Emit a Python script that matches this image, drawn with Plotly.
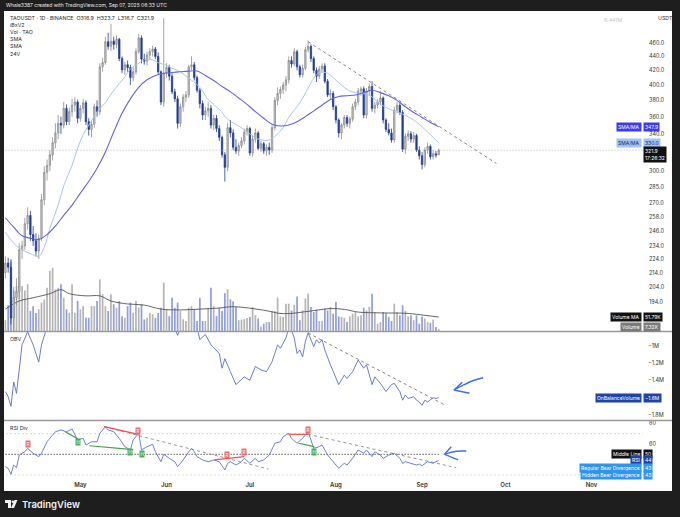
import math
import pandas as pd
import plotly.graph_objects as go

W, H = 680, 517
FONT = "Inter"

# daily candles 2025-04-04 .. 2025-09-07
dates = pd.date_range("2025-04-04", "2025-09-07", freq="D")
opens = [214, 221, 218, 184, 197, 201, 231, 234, 252, 259,
         243, 238, 230, 240, 273, 299, 306, 317, 330, 341,
         352, 350, 370, 354, 366, 374, 378, 358, 370, 377,
         354, 345, 351, 372, 366, 425, 431, 462, 455, 463,
         458, 466, 437, 421, 428, 424, 410, 418, 447, 468,
         436, 433, 442, 447, 451, 440, 418, 378, 416, 424,
         412, 391, 382, 352, 372, 384, 387, 425, 428, 410,
         393, 376, 362, 367, 370, 350, 358, 346, 336, 317,
         304, 347, 341, 325, 321, 327, 332, 342, 346, 319,
         334, 341, 324, 329, 321, 325, 322, 347, 380, 389,
         394, 400, 407, 434, 429, 447, 425, 414, 423, 450,
         455, 437, 420, 412, 422, 426, 405, 387, 389, 372,
         356, 341, 350, 359, 352, 357, 372, 378, 392, 395,
         362, 392, 398, 370, 374, 378, 383, 356, 345, 341,
         333, 368, 374, 365, 323, 337, 340, 334, 338, 322,
         316, 307, 322, 326, 315, 318, 316.9]
highs = [226, 225, 222, 204, 210, 236, 238, 257, 266, 263,
         250, 244, 243, 278, 305, 312, 322, 336, 352, 362,
         360, 378, 375, 371, 382, 384, 381, 374, 382, 380,
         358, 355, 376, 380, 430, 438, 470, 476, 490, 470,
         472, 468, 440, 432, 434, 428, 424, 452, 474, 472,
         444, 447, 452, 456, 454, 446, 420, 500, 430, 428,
         416, 395, 386, 376, 388, 392, 428, 440, 432, 413,
         396, 380, 372, 378, 374, 362, 362, 350, 338, 320,
         352, 356, 345, 334, 330, 336, 346, 350, 348, 338,
         346, 343, 332, 331, 328, 330, 350, 384, 397, 398,
         404, 412, 440, 440, 452, 450, 428, 428, 454, 464,
         458, 440, 424, 426, 430, 430, 408, 394, 392, 374,
         358, 352, 362, 362, 360, 376, 382, 396, 398, 398,
         396, 402, 405, 378, 382, 392, 385, 358, 352, 346,
         372, 378, 377, 368, 340, 344, 343, 342, 340, 326,
         320, 325, 330, 328, 322, 321, 323.7]
lows = [210, 214, 180, 175, 192, 196, 224, 231, 247, 238,
        234, 226, 224, 238, 268, 291, 300, 311, 324, 334,
        340, 346, 350, 350, 360, 366, 352, 354, 364, 350,
        338, 336, 347, 360, 362, 418, 428, 450, 448, 450,
        452, 433, 416, 414, 418, 400, 405, 414, 444, 430,
        428, 427, 436, 440, 436, 414, 374, 372, 410, 406,
        388, 378, 346, 348, 366, 378, 383, 420, 406, 390,
        370, 356, 356, 360, 346, 344, 342, 332, 314, 290,
        300, 336, 322, 318, 316, 324, 328, 338, 316, 315,
        330, 322, 320, 318, 316, 317, 319, 344, 374, 382,
        388, 392, 402, 424, 426, 420, 410, 410, 420, 446,
        432, 416, 404, 408, 418, 402, 384, 382, 368, 352,
        336, 334, 346, 348, 346, 354, 368, 374, 386, 358,
        358, 386, 366, 364, 370, 374, 352, 342, 338, 330,
        330, 364, 362, 320, 318, 332, 330, 330, 320, 312,
        302, 304, 318, 312, 312, 314, 316.7]
closes = [221, 218, 184, 197, 201, 231, 234, 252, 259, 243,
          238, 230, 240, 273, 299, 306, 317, 330, 341, 352,
          350, 370, 354, 366, 374, 378, 358, 370, 377, 354,
          345, 351, 372, 366, 425, 431, 462, 455, 463, 458,
          466, 437, 421, 428, 424, 410, 418, 447, 468, 436,
          433, 442, 447, 451, 440, 418, 378, 416, 424, 412,
          391, 382, 352, 372, 384, 387, 425, 428, 410, 393,
          376, 362, 367, 370, 350, 358, 346, 336, 317, 304,
          347, 341, 325, 321, 327, 332, 342, 346, 319, 334,
          341, 324, 329, 321, 325, 322, 347, 380, 389, 394,
          400, 407, 434, 429, 447, 425, 414, 423, 450, 455,
          437, 420, 412, 422, 426, 405, 387, 389, 372, 356,
          341, 350, 359, 352, 357, 372, 378, 392, 395, 362,
          392, 398, 370, 374, 378, 383, 356, 345, 341, 333,
          368, 374, 365, 323, 337, 340, 334, 338, 322, 316,
          307, 322, 326, 315, 318, 316.9, 321.9]
volumes_k = [40, 95, 265, 150, 166, 200, 166, 150, 173, 74,
             92, 67, 80, 105, 117, 160, 222, 234, 154, 160,
             173, 123, 80, 67, 173, 67, 111, 80, 92, 49,
             49, 92, 92, 111, 191, 136, 92, 74, 136, 99,
             86, 111, 55, 49, 92, 105, 67, 111, 86, 99,
             43, 49, 67, 62, 49, 67, 86, 179, 80, 55,
             123, 86, 105, 74, 43, 37, 86, 92, 80, 37,
             123, 37, 37, 86, 160, 92, 55, 86, 74, 140,
             154, 117, 110, 89, 40, 42, 44, 48, 52, 89,
             58, 46, 17, 27, 33, 33, 74, 74, 123, 54,
             52, 101, 101, 76, 97, 128, 40, 76, 120, 138,
             89, 70, 79, 37, 37, 83, 76, 89, 64, 107,
             54, 52, 49, 33, 54, 64, 70, 54, 58, 86,
             76, 89, 138, 70, 27, 33, 70, 66, 52, 37,
             101, 70, 58, 95, 74, 54, 58, 40, 58, 27,
             54, 46, 33, 30, 42, 15, 7.32]

# moving averages
sma_fast_dates = ["2025-04-04", "2025-04-07", "2025-04-10", "2025-04-13", "2025-04-16", "2025-04-18",
                  "2025-04-20", "2025-04-23", "2025-04-25", "2025-04-28", "2025-04-30", "2025-05-02",
                  "2025-05-05", "2025-05-07", "2025-05-10", "2025-05-12", "2025-05-15", "2025-05-17",
                  "2025-05-19", "2025-05-22", "2025-05-24", "2025-05-27", "2025-05-29", "2025-06-01",
                  "2025-06-03", "2025-06-06", "2025-06-08", "2025-06-13", "2025-06-16", "2025-06-20",
                  "2025-06-23", "2025-06-27", "2025-07-01", "2025-07-04", "2025-07-08", "2025-07-10",
                  "2025-07-13", "2025-07-15", "2025-07-19", "2025-07-22", "2025-07-24", "2025-07-26",
                  "2025-07-29", "2025-08-02", "2025-08-06", "2025-08-10", "2025-08-13", "2025-08-17",
                  "2025-08-21", "2025-08-25", "2025-08-29", "2025-09-02", "2025-09-05", "2025-09-07"]
sma_fast = [245, 236, 231, 228, 226, 233, 248, 268, 286, 306, 324, 339,
            355, 366, 377, 388, 402, 411, 422, 430, 435, 435, 431, 427,
            423, 418, 412, 397, 381, 369, 357, 349, 340, 334, 333, 337,
            347, 359, 377, 396, 409, 417, 416, 403, 392, 389, 387, 375,
            368, 363, 356, 345, 336, 330.0]
sma_slow_dates = ["2025-04-04", "2025-04-07", "2025-04-10", "2025-04-13", "2025-04-16", "2025-04-19",
                  "2025-04-22", "2025-04-25", "2025-04-28", "2025-05-01", "2025-05-04", "2025-05-07",
                  "2025-05-10", "2025-05-13", "2025-05-16", "2025-05-19", "2025-05-22", "2025-05-25",
                  "2025-05-28", "2025-05-31", "2025-06-03", "2025-06-06", "2025-06-09", "2025-06-12",
                  "2025-06-15", "2025-06-18", "2025-06-21", "2025-06-24", "2025-06-27", "2025-06-30",
                  "2025-07-03", "2025-07-06", "2025-07-09", "2025-07-12", "2025-07-15", "2025-07-18",
                  "2025-07-21", "2025-07-24", "2025-07-27", "2025-07-30", "2025-08-02", "2025-08-05",
                  "2025-08-08", "2025-08-11", "2025-08-14", "2025-08-17", "2025-08-20", "2025-08-23",
                  "2025-08-26", "2025-08-29", "2025-09-01", "2025-09-04", "2025-09-07"]
sma_slow = [257, 249, 242, 240, 239, 243, 250, 259, 268, 279, 290, 303,
            320, 342, 364, 382, 397, 407, 413, 416, 417, 418, 419, 419,
            413, 406, 398, 391, 383, 375, 366, 358, 351, 349, 350, 354,
            360, 367, 374, 381, 385, 386, 387, 390, 393, 390, 386, 380,
            372, 365, 359, 353, 347.9]
vol_ma_dates = ["2025-04-04", "2025-04-09", "2025-04-14", "2025-04-20", "2025-04-24", "2025-04-27",
                "2025-05-03", "2025-05-08", "2025-05-12", "2025-05-18", "2025-05-24", "2025-05-30",
                "2025-06-06", "2025-06-13", "2025-06-20", "2025-06-25", "2025-07-06", "2025-07-13",
                "2025-07-23", "2025-07-30", "2025-08-04", "2025-08-09", "2025-08-17", "2025-08-27",
                "2025-09-02", "2025-09-07"]
vol_ma_k = [81, 111, 123, 138, 153, 138, 130, 130, 111, 100, 96, 81,
            78, 81, 85, 90, 77, 64, 74, 83, 80, 70, 67, 65, 58, 51.79]

# on-balance volume (millions)
obv_dates = ["2025-04-04", "2025-04-05", "2025-04-06", "2025-04-07", "2025-04-08", "2025-04-09",
             "2025-04-10", "2025-04-12", "2025-04-14", "2025-04-16", "2025-04-17", "2025-04-19",
             "2025-04-22", "2025-04-26", "2025-05-01", "2025-05-08", "2025-05-16", "2025-05-23",
             "2025-05-30", "2025-06-02", "2025-06-04", "2025-06-05", "2025-06-06", "2025-06-09",
             "2025-06-12", "2025-06-13", "2025-06-15", "2025-06-17", "2025-06-20", "2025-06-21",
             "2025-06-22", "2025-06-24", "2025-06-26", "2025-06-29", "2025-07-01", "2025-07-03",
             "2025-07-05", "2025-07-07", "2025-07-09", "2025-07-11", "2025-07-12", "2025-07-14",
             "2025-07-15", "2025-07-16", "2025-07-17", "2025-07-18", "2025-07-19", "2025-07-20",
             "2025-07-21", "2025-07-22", "2025-07-24", "2025-07-25", "2025-07-26", "2025-07-27",
             "2025-07-28", "2025-07-30", "2025-08-02", "2025-08-04", "2025-08-05", "2025-08-07",
             "2025-08-09", "2025-08-11", "2025-08-12", "2025-08-14", "2025-08-15", "2025-08-17",
             "2025-08-19", "2025-08-21", "2025-08-22", "2025-08-24", "2025-08-25", "2025-08-26",
             "2025-08-27", "2025-08-29", "2025-08-30", "2025-08-31", "2025-09-01", "2025-09-02",
             "2025-09-03", "2025-09-05", "2025-09-06", "2025-09-07"]
obv_m = [-1.53, -1.59, -1.70, -1.42, -1.55, -1.26,
         -0.99, -0.84, -0.99, -1.19, -0.99, -0.78,
         -0.55, -0.40, -0.35, -0.20, -0.25, -0.30,
         -0.55, -0.70, -0.80, -0.88, -0.79, -0.70,
         -0.79, -0.93, -0.87, -0.99, -1.09, -1.26,
         -1.15, -1.30, -1.45, -1.36, -1.40, -1.24,
         -1.28, -1.30, -1.185, -0.99, -1.03, -0.91,
         -0.80, -0.82, -0.91, -1.09, -1.05, -1.13,
         -0.95, -0.85, -1.01, -0.93, -0.97, -0.93,
         -1.05, -1.22, -1.45, -1.34, -1.38, -1.30,
         -1.165, -1.26, -1.22, -1.45, -1.36, -1.435,
         -1.53, -1.45, -1.435, -1.53, -1.63, -1.57,
         -1.61, -1.59, -1.63, -1.65, -1.69, -1.63,
         -1.65, -1.60, -1.61, -1.60]

# RSI
rsi_dates = ["2025-04-04", "2025-04-05", "2025-04-06", "2025-04-07", "2025-04-08", "2025-04-09",
             "2025-04-11", "2025-04-12", "2025-04-14", "2025-04-16", "2025-04-17", "2025-04-19",
             "2025-04-21", "2025-04-22", "2025-04-24", "2025-04-26", "2025-04-28", "2025-04-30",
             "2025-05-02", "2025-05-03", "2025-05-05", "2025-05-07", "2025-05-08", "2025-05-10",
             "2025-05-11", "2025-05-13", "2025-05-15", "2025-05-17", "2025-05-18", "2025-05-19",
             "2025-05-20", "2025-05-22", "2025-05-23", "2025-05-25", "2025-05-27", "2025-05-28",
             "2025-05-30", "2025-05-31", "2025-06-02", "2025-06-04", "2025-06-05", "2025-06-07",
             "2025-06-09", "2025-06-10", "2025-06-11", "2025-06-12", "2025-06-14", "2025-06-16",
             "2025-06-18", "2025-06-20", "2025-06-22", "2025-06-23", "2025-06-24", "2025-06-26",
             "2025-06-28", "2025-06-29", "2025-07-01", "2025-07-03", "2025-07-04", "2025-07-06",
             "2025-07-08", "2025-07-10", "2025-07-12", "2025-07-13", "2025-07-15", "2025-07-16",
             "2025-07-18", "2025-07-20", "2025-07-22", "2025-07-23", "2025-07-24", "2025-07-26",
             "2025-07-27", "2025-07-29", "2025-07-31", "2025-08-02", "2025-08-04", "2025-08-05",
             "2025-08-07", "2025-08-09", "2025-08-11", "2025-08-12", "2025-08-14", "2025-08-15",
             "2025-08-17", "2025-08-18", "2025-08-20", "2025-08-22", "2025-08-24", "2025-08-25",
             "2025-08-26", "2025-08-28", "2025-08-30", "2025-08-31", "2025-09-01", "2025-09-03",
             "2025-09-05", "2025-09-06", "2025-09-07"]
rsi_vals = [38, 36.4, 30.6, 39.6, 37, 49.3,
            52.5, 55.8, 51, 47.7, 51, 62.2,
            68.7, 71.9, 73.6, 71.9, 74.6, 63.9,
            65.5, 59, 62.2, 62.2, 70.4, 76.8,
            73.6, 71.9, 65.5, 57.4, 55.8, 54.2,
            63.9, 70.4, 54.2, 57.4, 59.7, 52.5,
            42.8, 50, 46.1, 42.8, 38, 44.5,
            52.5, 55.8, 52.5, 47.7, 44.5, 42.8,
            44.5, 42.8, 34.8, 41.3, 42.8, 39.6,
            42.8, 46.1, 41.3, 46.1, 42.8, 44.5,
            49.3, 60.7, 62.2, 67.1, 70.4, 65.5,
            60.7, 65.5, 71.9, 63.9, 55.8, 57.4,
            59, 49.3, 42.8, 36.4, 41.3, 39.6,
            46.1, 54.2, 51, 54.2, 47.7, 52.5,
            49.3, 46.1, 49.3, 51, 46.1, 41.3,
            42.8, 41.3, 39.6, 40.5, 38.9, 42.8,
            41.3, 42.8, 44]

# drawings on the chart
price_trend_dates = ["2025-07-22", "2025-09-27 18:00"]
price_trend_vals = [462, 308]
obv_trend_dates = ["2025-07-22", "2025-09-09 17:00"]
obv_trend_vals = [-0.853, -1.694]
rsi_trend1_dates = ["2025-05-09 14:00", "2025-07-07 16:00"]
rsi_trend1_vals = [76.8, 35.7]
rsi_trend2_dates = ["2025-07-22", "2025-09-13 07:00"]
rsi_trend2_vals = [69.4, 37.0]

bear_lines = [(["2025-05-09 14:00", "2025-05-21 22:00"], [76.8, 69.4]),
              (["2025-06-18 05:00", "2025-06-29"], [44.5, 47.7]),
              (["2025-07-14 22:00", "2025-07-22"], [69.4, 69.4])]
bull_lines = [(["2025-04-25 14:00", "2025-04-30 07:00"], [71.9, 64.6]),
              (["2025-05-04 05:00", "2025-05-20"], [58.3, 54.5]),
              (["2025-07-18 12:00", "2025-07-24 05:00"], [60.7, 57.4])]
bear_tag_dates = ["2025-04-12 07:00", "2025-05-21 22:00", "2025-06-22 22:00", "2025-06-29", "2025-07-22"]
bear_tag_vals = [60, 72.8, 49.3, 52.5, 73.6]
bull_tag_dates = ["2025-04-30 07:00", "2025-05-19", "2025-05-23", "2025-07-24 05:00"]
bull_tag_vals = [61.9, 52, 50, 52.5]

obv_arrow_dates = ["2025-09-12 12:00", "2025-09-15 22:00", "2025-09-19 12:00", "2025-09-23"]
obv_arrow_vals = [-1.512, -1.454, -1.402, -1.37]
obv_head_dates = ["2025-09-15 12:00", "2025-09-12 12:00", "2025-09-18 02:00"]
obv_head_vals = [-1.423, -1.512, -1.55]
rsi_arrow_dates = ["2025-09-09 02:00", "2025-09-13 07:00", "2025-09-16 22:00"]
rsi_arrow_vals = [50, 52.9, 53.2]
rsi_head_dates = ["2025-09-11 12:00", "2025-09-09 02:00", "2025-09-14"]
rsi_head_vals = [57.4, 50, 44.5]

month_ticks = ["2025-05-01", "2025-06-01", "2025-07-01", "2025-08-01", "2025-09-01", "2025-10-01", "2025-11-01"]
month_names = ["May", "Jun", "Jul", "Aug", "Sep", "Oct", "Nov"]
price_ticks = [460, 440, 420, 400, 380, 360, 340, 300, 285, 270, 258, 246, 234, 224, 214, 204, 194]

# pane layout in pixels
def px(x):
    return x / W

def py(y):
    return 1 - y / H

MAIN_D = [py(331), py(12)]
OBV_D = [py(420), py(332)]
RSI_D = [py(480), py(421)]
PRICE_R = [math.log10(176.2), math.log10(510.2)]
VOL_R = [0, 1180000]
OBV_R = [-1.859e6, -0.8416e6]
RSI_R = [25.05, 82.33]

def lin(v, r, d):
    return d[0] + (v - r[0]) / (r[1] - r[0]) * (d[1] - d[0])

fig = go.Figure()

vol_colors = ["rgba(150,150,150,0.7)" if c >= o else "rgba(105,125,210,0.75)" for o, c in zip(opens, closes)]
fig.add_trace(go.Bar(x=dates, y=[v * 1000 for v in volumes_k], marker_color=vol_colors,
                     marker_line_width=0, width=0.62 * 86400000, yaxis="y"))
fig.add_trace(go.Scatter(x=vol_ma_dates, y=[v * 1000 for v in vol_ma_k], mode="lines",
                         line=dict(color="#555555", width=0.9, shape="spline"), yaxis="y"))

fig.add_trace(go.Candlestick(x=dates, open=opens, high=highs, low=lows, close=closes, yaxis="y2",
                             increasing=dict(line=dict(color="#8c8c8c", width=0.8), fillcolor="#cccccc"),
                             decreasing=dict(line=dict(color="#1f3d8f", width=0.8), fillcolor="#1f3d8f")))
fig.add_trace(go.Scatter(x=sma_fast_dates, y=sma_fast, mode="lines", yaxis="y2",
                         line=dict(color="#a9c6ee", width=1, shape="spline")))
fig.add_trace(go.Scatter(x=sma_slow_dates, y=sma_slow, mode="lines", yaxis="y2",
                         line=dict(color="#6464dc", width=1.1, shape="spline")))
fig.add_trace(go.Scatter(x=["2025-04-03", "2025-11-20"], y=[closes[-1], closes[-1]], mode="lines", yaxis="y2",
                         line=dict(color="#aaaaaa", width=0.8, dash="1px,2px")))
fig.add_trace(go.Scatter(x=price_trend_dates, y=price_trend_vals, mode="lines", yaxis="y2",
                         line=dict(color="#777777", width=0.9, dash="3px,3px")))

fig.add_trace(go.Scatter(x=obv_dates, y=[v * 1e6 for v in obv_m], mode="lines", yaxis="y3",
                         line=dict(color="#5a6fc6", width=0.9)))
fig.add_trace(go.Scatter(x=obv_trend_dates, y=[v * 1e6 for v in obv_trend_vals], mode="lines", yaxis="y3",
                         line=dict(color="#777777", width=0.9, dash="3px,3px")))
fig.add_trace(go.Scatter(x=obv_arrow_dates, y=[v * 1e6 for v in obv_arrow_vals], mode="lines", yaxis="y3",
                         line=dict(color="#3f6fe0", width=1.4, shape="spline")))
fig.add_trace(go.Scatter(x=obv_head_dates, y=[v * 1e6 for v in obv_head_vals], mode="lines", yaxis="y3",
                         line=dict(color="#3f6fe0", width=1.4)))

# RSI pane
for lvl in (70, 30):
    fig.add_trace(go.Scatter(x=["2025-04-03", "2025-11-20"], y=[lvl, lvl], mode="lines", yaxis="y4",
                             line=dict(color="#aaaaaa", width=0.8, dash="1px,3px")))
fig.add_trace(go.Scatter(x=["2025-04-03", "2025-09-07"], y=[50, 50], mode="lines", yaxis="y4",
                         line=dict(color="#111111", width=1, dash="1px,2px")))
fig.add_trace(go.Scatter(x=rsi_trend1_dates, y=rsi_trend1_vals, mode="lines", yaxis="y4",
                         line=dict(color="#888888", width=0.9, dash="3px,3px")))
fig.add_trace(go.Scatter(x=rsi_trend2_dates, y=rsi_trend2_vals, mode="lines", yaxis="y4",
                         line=dict(color="#888888", width=0.9, dash="3px,3px")))
fig.add_trace(go.Scatter(x=rsi_dates, y=rsi_vals, mode="lines", yaxis="y4",
                         line=dict(color="#5f74c8", width=0.9)))
for xs, ys in bear_lines:
    fig.add_trace(go.Scatter(x=xs, y=ys, mode="lines", yaxis="y4", line=dict(color="#ef4f4f", width=1.2)))
for xs, ys in bull_lines:
    fig.add_trace(go.Scatter(x=xs, y=ys, mode="lines", yaxis="y4", line=dict(color="#43a047", width=1.2)))
fig.add_trace(go.Scatter(x=rsi_arrow_dates, y=rsi_arrow_vals, mode="lines", yaxis="y4",
                         line=dict(color="#3f6fe0", width=1.4, shape="spline")))
fig.add_trace(go.Scatter(x=rsi_head_dates, y=rsi_head_vals, mode="lines", yaxis="y4",
                         line=dict(color="#3f6fe0", width=1.4)))

ann = []

def text(t, x, y, size=5.5, color="#333333", xanchor="left", weight=None):
    ann.append(dict(text=t, x=px(x), y=py(y), xref="paper", yref="paper", xanchor=xanchor, yanchor="middle",
                    showarrow=False, font=dict(size=size, color=color, family=FONT, weight=weight)))

def tag(name, value, ypaper, bg, fg="white", yshift=0):
    if name:
        ann.append(dict(text=name, x=px(642), y=ypaper, xref="paper", yref="paper", xanchor="right",
                        yanchor="middle", showarrow=False, bgcolor=bg, borderpad=1, yshift=yshift,
                        font=dict(size=5, color=fg, family=FONT)))
    ann.append(dict(text=value, x=px(643), y=ypaper, xref="paper", yref="paper", xanchor="left",
                    yanchor="middle", showarrow=False, bgcolor=bg, borderpad=1, yshift=yshift,
                    font=dict(size=5, color=fg, family=FONT)))

text("Whale3387 created with TradingView.com, Sep 07, 2025 06:33 UTC", 4, 5.5, size=5, color="#e8e8e8")
legend_rows = ["TAOUSDT · 1D · BINANCE  O316.9  H323.7  L316.7  C321.9", "iBxV2", "Vol · TAO", "SMA", "SMA", "24V"]
for i, row in enumerate(legend_rows):
    text(row, 8, 18 + i * 7.1, size=5.3, color="#2a2a2a")
text("OBV", 8, 339, size=5.3, color="#2a2a2a")
text("RSI Div", 8, 428, size=5.3, color="#2a2a2a")
text("USDT", 656, 18, size=5.3, color="#333333")
text("6.441M", 602, 20, size=5.3, color="#c8c8c8")
text("TradingView", 20, 504, size=9.5, color="#f2f2f2", weight=600)

tag("SMA/MA", f"{sma_slow[-1]:.1f}", lin(math.log10(sma_slow[-1]), PRICE_R, MAIN_D), "#3b3bf0")
tag("SMA/MA", f"{sma_fast[-1]:.1f}", lin(math.log10(sma_fast[-1]), PRICE_R, MAIN_D), "#9fc4f4", fg="#1a2a55")
ann.append(dict(text=f"{closes[-1]:.1f}<br>17:26:32", x=px(643), y=lin(math.log10(closes[-1]), PRICE_R, MAIN_D),
                xref="paper", yref="paper", xanchor="left", yanchor="top", yshift=4, showarrow=False,
                bgcolor="#111111", borderpad=1, align="left", font=dict(size=5, color="white", family=FONT)))
tag("Volume MA", f"{vol_ma_k[-1]:.2f}K", lin(vol_ma_k[-1] * 1000, VOL_R, MAIN_D), "#111111")
tag("Volume", f"{volumes_k[-1]:.2f}K", lin(volumes_k[-1] * 1000, VOL_R, MAIN_D), "#7a7a7a", yshift=2)
tag("OnBalanceVolume", f"−{abs(obv_m[-1]):.1f}M", lin(obv_m[-1] * 1e6, OBV_R, OBV_D), "#1f44a8")
tag("Middle Line", "50", lin(50, RSI_R, RSI_D), "#111111")
tag("RSI", f"{rsi_vals[-1]:.0f}", lin(rsi_vals[-1], RSI_R, RSI_D), "#1f44a8")
tag("Regular Bear Divergence", "43", lin(43, RSI_R, RSI_D), "#2f95ef", yshift=-6.5)
tag("Hidden Bear Divergence", "43", lin(43, RSI_R, RSI_D), "#2f95ef", yshift=-13.5)

for d, v in zip(bear_tag_dates, bear_tag_vals):
    ann.append(dict(text="R", x=d, y=v, xref="x", yref="y4", showarrow=False, bgcolor="#f26b6b",
                    borderpad=0.5, font=dict(size=4.5, color="white", family=FONT)))
for d, v in zip(bull_tag_dates, bull_tag_vals):
    ann.append(dict(text="H", x=d, y=v, xref="x", yref="y4", showarrow=False, bgcolor="#4caf50",
                    borderpad=0.5, font=dict(size=4.5, color="white", family=FONT)))

shapes = [
    dict(type="rect", xref="paper", yref="paper", x0=px(4), x1=px(672), y0=py(491), y1=py(11),
         fillcolor="white", line_width=0, layer="below"),
    dict(type="line", xref="paper", yref="paper", x0=px(4), x1=px(672), y0=py(331.5), y1=py(331.5),
         line=dict(color="#9a9a9a", width=1.4)),
    dict(type="line", xref="paper", yref="paper", x0=px(4), x1=px(672), y0=py(420.5), y1=py(420.5),
         line=dict(color="#9a9a9a", width=1.4)),
    # TradingView logo mark
    dict(type="rect", xref="paper", yref="paper", x0=px(5), x1=px(11), y0=py(503), y1=py(500),
         fillcolor="#f2f2f2", line_width=0),
    dict(type="rect", xref="paper", yref="paper", x0=px(8), x1=px(11), y0=py(508), y1=py(500),
         fillcolor="#f2f2f2", line_width=0),
    dict(type="circle", xref="paper", yref="paper", x0=px(11.5), x1=px(14), y0=py(503), y1=py(500.5),
         fillcolor="#f2f2f2", line_width=0),
    dict(type="path", xref="paper", yref="paper",
         path=f"M {px(14.5)},{py(500)} L {px(17.5)},{py(500)} L {px(14)},{py(508)} L {px(11)},{py(508)} Z",
         fillcolor="#f2f2f2", line_width=0),
]

axis_font = dict(size=5.5, color="#333333", family=FONT)
fig.update_layout(
    width=W, height=H, margin=dict(l=0, r=0, t=0, b=0),
    paper_bgcolor="#1e1e1e", plot_bgcolor="white", showlegend=False,
    font=dict(family=FONT),
    xaxis=dict(domain=[px(4), px(643)], anchor="y4", type="date",
               range=["2025-04-03 12:00", "2025-11-19 13:00"],
               tickvals=month_ticks, ticktext=month_names, ticks="", showgrid=False, zeroline=False,
               showline=False, tickfont=dict(size=6, color="#333333", family=FONT, weight=600),
               rangeslider=dict(visible=False)),
    yaxis=dict(domain=MAIN_D, range=VOL_R, visible=False, showgrid=False),
    yaxis2=dict(overlaying="y", anchor="x", side="right", type="log", range=PRICE_R,
                tickvals=price_ticks, ticktext=[f"{t:.1f}" for t in price_ticks], ticks="",
                showgrid=False, zeroline=False, tickfont=axis_font, ticklabelstandoff=5),
    yaxis3=dict(domain=OBV_D, anchor="x", side="right", range=OBV_R,
                tickvals=[-1e6, -1.2e6, -1.4e6, -1.8e6], ticktext=["−1M", "−1.2M", "−1.4M", "−1.8M"],
                ticks="", showgrid=False, zeroline=False, tickfont=axis_font, ticklabelstandoff=4),
    yaxis4=dict(domain=RSI_D, anchor="x", side="right", range=RSI_R,
                tickvals=[80, 60], ticktext=["80", "60"], ticks="", showgrid=False, zeroline=False,
                tickfont=axis_font, ticklabelstandoff=5),
    annotations=ann, shapes=shapes,
)

# page body margin would shift the figure off the 680x517 frame
fig.write_html("out.html", config={"displayModeBar": False},
               post_script="document.body.style.margin='0';document.body.style.background='#1e1e1e';")
